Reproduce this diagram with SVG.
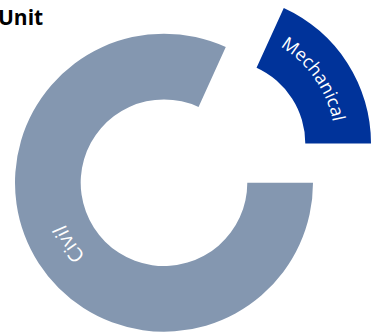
<svg xmlns="http://www.w3.org/2000/svg" xmlns:xlink="http://www.w3.org/1999/xlink" width="373" height="332" viewBox="0 0 373 332">
<style>
.lbl{font-family:"Open Sans","Noto Sans","DejaVu Sans",sans-serif;font-size:18px;fill:#ffffff}
.big{font-size:20px}
.title{font-family:"Open Sans","Noto Sans","DejaVu Sans",sans-serif;font-size:21px;font-weight:bold;fill:#000000}
</style>
<defs>
<path id="pMech" d="M231.85,30.93 A113,113 0 0 1 331.15,172.75"/>
<path id="pCivil" d="M150.5,288.84 A107,107 0 0 1 61.81,150.97"/>
</defs>
<rect width="373" height="332" fill="#ffffff"/>
<text class="title" x="-2" y="25">Unit</text>
<g id="civil">
<path d="M313,182.7 A149,149 0 1 1 225.79,47.11 L198.54,106.9 A83.3,83.3 0 1 0 247.3,182.7 Z" fill="#8497B0"/>
<text class="lbl big"><textPath xlink:href="#pCivil" href="#pCivil" startOffset="50%" text-anchor="middle">Civil</textPath></text>
</g>
<g id="mechanical">
<path d="M283.79,7.91 A149,149 0 0 1 371,143.5 L305.3,143.5 A83.3,83.3 0 0 0 256.54,67.7 Z" fill="#00339A"/>
<text class="lbl"><textPath xlink:href="#pMech" href="#pMech" startOffset="50%" text-anchor="middle">Mechanical</textPath></text>
</g>
<g id="connectors"></g>
</svg>
